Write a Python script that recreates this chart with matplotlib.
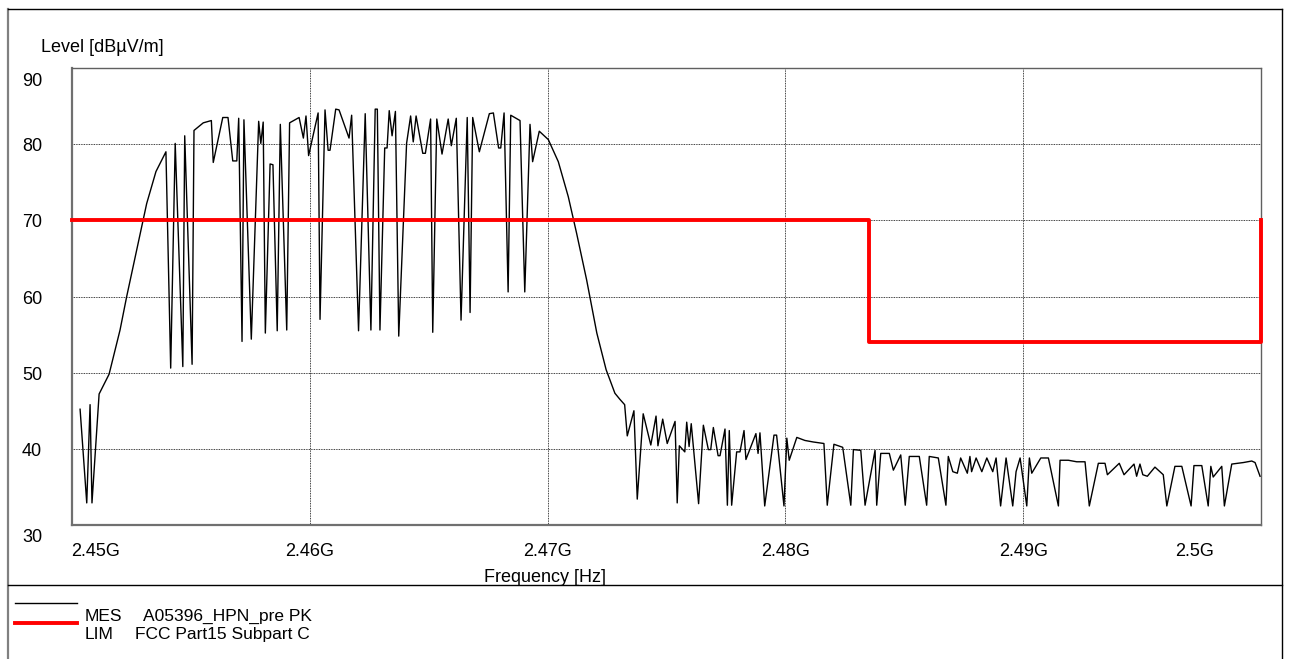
import matplotlib
matplotlib.use('Agg')
import matplotlib.pyplot as plt
import matplotlib.transforms as mtransforms
from matplotlib.lines import Line2D

plt.rcParams['font.family'] = ['Liberation Sans', 'DejaVu Sans']

freq_mhz = [
    2450.34, 2450.62, 2450.76, 2450.84, 2451.14, 2451.56, 2452.02, 2452.30, 2452.72, 2453.14,
    2453.53, 2453.95, 2454.15, 2454.34, 2454.66, 2454.74, 2455.05, 2455.13, 2455.52, 2455.86,
    2455.94, 2456.34, 2456.56, 2456.76, 2456.93, 2457.01, 2457.15, 2457.23, 2457.54, 2457.85,
    2457.94, 2458.04, 2458.13, 2458.33, 2458.45, 2458.63, 2458.76, 2459.03, 2459.15, 2459.55,
    2459.73, 2459.84, 2459.95, 2460.35, 2460.43, 2460.64, 2460.77, 2460.85, 2461.09, 2461.23,
    2461.65, 2461.76, 2462.05, 2462.33, 2462.57, 2462.75, 2462.84, 2462.95, 2463.15, 2463.25,
    2463.34, 2463.46, 2463.60, 2463.74, 2464.07, 2464.24, 2464.35, 2464.47, 2464.75, 2464.86,
    2465.08, 2465.17, 2465.34, 2465.56, 2465.82, 2465.95, 2466.16, 2466.36, 2466.62, 2466.74,
    2466.85, 2467.13, 2467.55, 2467.72, 2467.94, 2468.03, 2468.17, 2468.34, 2468.45, 2468.84,
    2469.04, 2469.26, 2469.37, 2469.65, 2470.03, 2470.45, 2470.87, 2471.22, 2471.64, 2472.07,
    2472.46, 2472.83, 2473.04, 2473.24, 2473.35, 2473.63, 2473.77, 2474.02, 2474.34, 2474.56,
    2474.64, 2474.84, 2475.03, 2475.36, 2475.45, 2475.54, 2475.77, 2475.85, 2475.95, 2476.04,
    2476.35, 2476.55, 2476.76, 2476.86, 2476.97, 2477.17, 2477.25, 2477.46, 2477.56, 2477.64,
    2477.74, 2477.95, 2478.09, 2478.26, 2478.34, 2478.76, 2478.85, 2478.93, 2479.13, 2479.52,
    2479.63, 2479.94, 2480.06, 2480.16, 2480.48, 2480.82, 2481.17, 2481.62, 2481.76, 2482.04,
    2482.41, 2482.75, 2482.86, 2483.17, 2483.35, 2483.77, 2483.84, 2484.01, 2484.37, 2484.54,
    2484.85, 2485.04, 2485.21, 2485.63, 2485.94, 2486.05, 2486.43, 2486.75, 2486.85, 2487.04,
    2487.23, 2487.37, 2487.65, 2487.76, 2487.83, 2488.02, 2488.26, 2488.47, 2488.72, 2488.86,
    2489.05, 2489.28, 2489.56, 2489.70, 2489.87, 2490.15, 2490.26, 2490.36, 2490.74, 2491.06,
    2491.48, 2491.55, 2491.90, 2492.25, 2492.60, 2492.78, 2493.16, 2493.44, 2493.54, 2494.04,
    2494.24, 2494.66, 2494.77, 2494.91, 2495.03, 2495.22, 2495.54, 2495.89, 2496.04, 2496.38,
    2496.67, 2497.06, 2497.18, 2497.51, 2497.78, 2497.89, 2497.99, 2498.35, 2498.46, 2498.77,
    2499.26, 2499.61, 2499.75, 2499.96,
]
level_dbuv = [
    45.2, 32.9, 45.8, 32.9, 47.2, 49.8, 55.6, 60.0, 66.1, 72.2,
    76.4, 79.0, 50.6, 80.1, 50.8, 81.1, 51.1, 81.8, 82.8, 83.1,
    77.6, 83.5, 83.5, 77.8, 77.8, 83.4, 54.1, 83.2, 54.4, 83.0,
    80.1, 82.9, 55.2, 77.4, 77.3, 55.5, 82.6, 55.6, 82.8, 83.5,
    80.8, 83.7, 78.5, 84.1, 57.0, 84.5, 79.2, 79.2, 84.6, 84.5,
    80.8, 83.8, 55.5, 84.0, 55.6, 84.6, 84.6, 55.6, 79.5, 79.5,
    84.4, 81.1, 84.3, 54.8, 80.1, 83.7, 80.3, 83.7, 78.8, 78.8,
    83.3, 55.3, 83.3, 78.7, 83.3, 79.8, 83.4, 56.9, 83.5, 57.9,
    83.5, 79.0, 84.0, 84.1, 79.5, 79.5, 84.1, 60.6, 83.8, 83.1,
    60.6, 82.6, 77.7, 81.7, 80.6, 77.7, 73.1, 68.3, 62.2, 55.2,
    50.4, 47.3, 46.5, 45.8, 41.7, 45.0, 33.4, 44.6, 40.5, 44.3,
    40.4, 43.9, 40.7, 43.6, 32.9, 40.4, 39.6, 43.5, 40.3, 43.3,
    32.8, 43.1, 39.9, 39.9, 42.8, 39.1, 39.1, 42.6, 32.6, 42.4,
    32.6, 39.6, 39.6, 42.4, 38.6, 42.0, 39.4, 42.1, 32.5, 41.8,
    41.8, 32.5, 41.4, 38.5, 41.5, 41.1, 40.9, 40.7, 32.6, 40.6,
    40.2, 32.6, 39.9, 39.8, 32.6, 39.8, 32.6, 39.4, 39.4, 37.2,
    39.2, 32.6, 39.0, 39.0, 32.6, 39.0, 38.8, 32.6, 39.0, 37.0,
    36.8, 38.8, 36.8, 39.0, 37.0, 38.8, 37.0, 38.8, 37.0, 38.8,
    32.5, 38.8, 32.5, 37.0, 38.8, 32.5, 38.8, 36.8, 38.8, 38.8,
    32.5, 38.5, 38.5, 38.3, 38.3, 32.5, 38.1, 38.1, 36.6, 38.1,
    36.6, 38.0, 36.4, 38.0, 36.6, 36.4, 37.6, 36.6, 32.5, 37.7,
    37.7, 32.5, 37.8, 37.8, 32.5, 37.7, 36.3, 37.7, 32.5, 38.0,
    38.2, 38.4, 38.2, 36.4,
]

# FCC Part15 Subpart C limit line
lim_freq = [2450.0, 2483.5, 2483.5, 2500.0, 2500.0]
lim_level = [70.0, 70.0, 54.0, 54.0, 70.0]

y_ticks = [30, 40, 50, 60, 70, 80, 90]
x_ticks = [2450, 2460, 2470, 2480, 2490, 2500]
x_tick_labels = ['2.45G', '2.46G', '2.47G', '2.48G', '2.49G', '2.5G']

W, H = 1290, 659
FS = 13

fig = plt.figure(figsize=(W / 100, H / 100), dpi=100)
ax = fig.add_axes([72 / W, 1 - 525 / H, 1189 / W, 457 / H])

ax.plot(freq_mhz, level_dbuv, color='black', lw=1.0, zorder=3)
ax.plot(lim_freq, lim_level, color='#ff0000', lw=2.8, zorder=4, clip_on=False)

ax.set_xlim(2450, 2500)
ax.set_ylim(30, 90)
ax.set_xticks(x_ticks)
ax.set_yticks(y_ticks)
ax.tick_params(length=0, labelbottom=False, labelleft=False)
ax.grid(True, color='black', lw=0.6, linestyle=(0, (1, 1)))

for side in ['left', 'bottom']:
    ax.spines[side].set_color('#707070')
    ax.spines[side].set_linewidth(1.6)
for side in ['top', 'right']:
    ax.spines[side].set_color('#606060')
    ax.spines[side].set_linestyle((0, (1, 1)))
    ax.spines[side].set_linewidth(1.0)


def px_shift(dx, dy):
    return mtransforms.ScaledTranslation(dx / 100, -dy / 100, fig.dpi_scale_trans)


# y tick labels (end ones nudged like the original)
ylab_tr = mtransforms.blended_transform_factory(fig.transFigure, ax.transData)
y_nudge = {90: 13, 30: 13}
for v in y_ticks:
    ax.text(32 / W, v, str(v), transform=ylab_tr + px_shift(0, y_nudge.get(v, 2.5)),
            ha='center', va='center', fontsize=FS)

# x tick labels
xlab_tr = mtransforms.blended_transform_factory(ax.transData, fig.transFigure)
x_nudge = {2450: 24, 2500: -66}
for v, lab in zip(x_ticks, x_tick_labels):
    ax.text(v, 1 - 552 / H, lab, transform=xlab_tr + px_shift(x_nudge.get(v, 0), 0),
            ha='center', va='center', fontsize=FS)

fig.text(545 / W, 1 - 577 / H, 'Frequency [Hz]', ha='center', va='center', fontsize=FS)
fig.text(41 / W, 1 - 48 / H, 'Level [dBµV/m]', ha='left', va='center', fontsize=FS)

# outer frame and legend separator
def fline(x0, y0, x1, y1, **kw):
    fig.add_artist(Line2D([x0 / W, x1 / W], [1 - y0 / H, 1 - y1 / H],
                          transform=fig.transFigure, **kw))


fline(8, 9, 8, 659, color='#808080', lw=1.6)
fline(8, 9, 1282, 9, color='black', lw=1.0)
fline(1282, 9, 1282, 659, color='black', lw=1.0)
fline(8, 585, 1282, 585, color='black', lw=1.0)

# legend
LFS = 12.5
fline(15, 603, 77, 603, color='black', lw=1.0)
fline(15, 623, 77, 623, color='#ff0000', lw=2.8)
fig.text(85 / W, 1 - 621 / H, 'MES', ha='left', va='baseline', fontsize=LFS)
fig.text(143 / W, 1 - 621 / H, 'A05396_HPN_pre PK', ha='left', va='baseline', fontsize=LFS)
fig.text(85 / W, 1 - 639 / H, 'LIM', ha='left', va='baseline', fontsize=LFS)
fig.text(135 / W, 1 - 639 / H, 'FCC Part15 Subpart C', ha='left', va='baseline', fontsize=LFS)

fig.savefig('out.png', dpi=100)
